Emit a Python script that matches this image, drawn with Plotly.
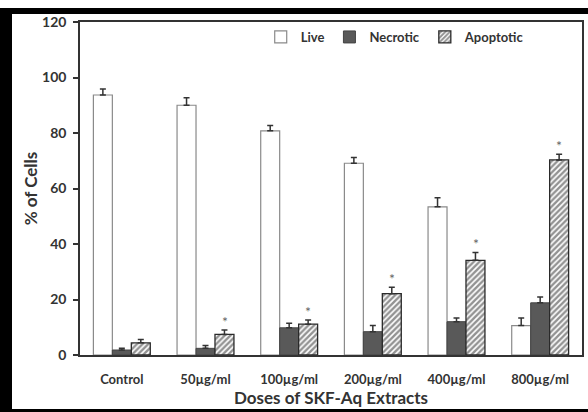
import plotly.graph_objects as go

categories = ["Control", "50µg/ml", "100µg/ml", "200µg/ml", "400µg/ml", "800µg/ml"]
live = [93.7, 90.0, 80.8, 69.1, 53.4, 10.6]
live_err = [2.2, 2.7, 1.9, 2.1, 3.3, 2.7]
necrotic = [1.8, 2.4, 9.8, 8.4, 12.0, 18.8]
necrotic_err = [0.6, 1.0, 1.6, 2.2, 1.3, 2.1]
apoptotic = [4.4, 7.4, 11.1, 22.1, 34.1, 70.3]
apoptotic_err = [1.2, 1.6, 1.5, 2.3, 2.8, 2.0]
significant = [False, True, True, True, True, True]

FONT = "Lato"
TXT = "#333333"

def err(e):
    return dict(type="data", symmetric=False, array=e, arrayminus=[0] * len(e),
                color="#333333", thickness=1.5, width=3)

fig = go.Figure()
fig.add_trace(go.Bar(name="Live", x=categories, y=live, error_y=err(live_err),
                     marker=dict(color="white", line=dict(color="#8a8a8a", width=1.2))))
fig.add_trace(go.Bar(name="Necrotic", x=categories, y=necrotic, error_y=err(necrotic_err),
                     marker=dict(color="#595959", line=dict(color="#444444", width=1))))
fig.add_trace(go.Bar(name="Apoptotic", x=categories, y=apoptotic, error_y=err(apoptotic_err),
                     marker=dict(color="white", line=dict(color="#2a2a2a", width=1.3),
                                 pattern=dict(shape="/", fgcolor="#262626", bgcolor="white",
                                              size=4, solidity=0.6))))

for c, v, e, s in zip(categories, apoptotic, apoptotic_err, significant):
    if s:
        fig.add_annotation(x=c, y=v + e + 3.2, text="*", showarrow=False, xshift=19,
                           yanchor="middle", font=dict(family=FONT, size=14, color="#666666"))

L, R, T, B = 80, 6, 22, 57
W, H = 588, 412
pw, ph = W - L - R, H - T - B
def px(x):
    return (x - L) / pw
def py(y):
    return (H - B - y) / ph

shapes = [
    dict(type="rect", xref="paper", yref="paper", x0=px(0), x1=px(W), y0=py(14), y1=py(8),
         fillcolor="black", line=dict(width=0)),
    dict(type="rect", xref="paper", yref="paper", x0=px(0), x1=px(12), y0=py(H), y1=py(8),
         fillcolor="black", line=dict(width=0)),
    dict(type="rect", xref="paper", yref="paper", x0=px(0), x1=px(W), y0=py(H), y1=py(409),
         fillcolor="black", line=dict(width=0)),
]

fig.update_layout(
    width=W, height=H,
    margin=dict(l=L, r=R, t=T, b=B, autoexpand=False),
    paper_bgcolor="white", plot_bgcolor="white",
    barmode="group", bargap=0.32, bargroupgap=0,
    font=dict(family=FONT, color=TXT, size=12),
    shapes=shapes,
    legend=dict(orientation="h", x=0.36, y=0.955, xanchor="left", yanchor="middle",
                font=dict(family=FONT, size=13, color=TXT, weight="bold"),
                bgcolor="rgba(0,0,0,0)", itemwidth=30),
    xaxis=dict(showline=True, linecolor="#333333", linewidth=1.5, mirror=True,
               automargin=False, ticklabelstandoff=12,
               ticks="", tickfont=dict(family=FONT, size=13, color=TXT, weight="bold"),
               title=dict(text="Doses of SKF-Aq Extracts", standoff=4,
                          font=dict(family=FONT, size=17, color=TXT, weight="bold"))),
    yaxis=dict(range=[0, 120], dtick=20, showgrid=False, zeroline=False,
               automargin=False, ticklabelstandoff=4,
               showline=True, linecolor="#333333", linewidth=1.5, mirror=True,
               ticks="outside", ticklen=5, tickcolor="#333333", tickwidth=1.5,
               tickfont=dict(family=FONT, size=14, color=TXT, weight="bold"),
               title=dict(text="% of Cells", standoff=0,
                          font=dict(family=FONT, size=17, color=TXT, weight="bold"))),
)

fig.write_html("out.html", config={"displayModeBar": False},
               post_script="document.body.style.margin='0';document.body.style.overflow='hidden';")
